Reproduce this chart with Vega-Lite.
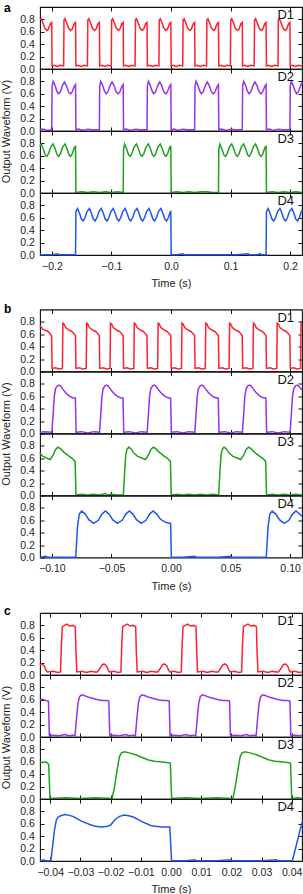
{
"$schema":"https://vega.github.io/schema/vega-lite/v6.json",
"background":"white",
"padding":{"left":-1,"top":0,"right":2,"bottom":0},
"spacing":11.5,
"config":{
"font":"Liberation Sans",
"view":{"stroke":"#111","strokeWidth":1.1},
"axis":{"domain":false,"grid":false,"ticks":true,"tickSize":-4,"tickColor":"#111","tickWidth":1,"labelFont":"Liberation Sans","labelFontSize":10.5,"labelColor":"#222","titleFont":"Liberation Sans","titleFontSize":11,"titleFontWeight":"normal","titleColor":"#222","labelFlush":false,"labelOverlap":false},
"axisX":{"labelPadding":10,"titlePadding":6},
"axisY":{"labelPadding":9.7},
"text":{"font":"Liberation Sans"}
},
"datasets":{
"a1":[{"t":-0.22,"v":0.8},{"t":-0.218,"v":0.81},{"t":-0.215,"v":0.74},{"t":-0.212,"v":0.66},{"t":-0.2085,"v":0.62},{"t":-0.206,"v":0.64},{"t":-0.2025,"v":0.73},{"t":-0.2003,"v":0.75},{"t":-0.1997,"v":0.05},{"t":-0.196,"v":0.06},{"t":-0.191,"v":0.04},{"t":-0.186,"v":0.06},{"t":-0.1803,"v":0.05},
{"t":-0.1797,"v":0.79},{"t":-0.178,"v":0.81},{"t":-0.175,"v":0.74},{"t":-0.172,"v":0.66},{"t":-0.1685,"v":0.62},{"t":-0.166,"v":0.64},{"t":-0.1625,"v":0.73},{"t":-0.1603,"v":0.75},{"t":-0.1597,"v":0.05},{"t":-0.156,"v":0.06},{"t":-0.151,"v":0.04},{"t":-0.146,"v":0.06},{"t":-0.1403,"v":0.05},
{"t":-0.1397,"v":0.79},{"t":-0.138,"v":0.81},{"t":-0.135,"v":0.74},{"t":-0.132,"v":0.66},{"t":-0.1285,"v":0.62},{"t":-0.126,"v":0.64},{"t":-0.1225,"v":0.73},{"t":-0.1203,"v":0.75},{"t":-0.1197,"v":0.05},{"t":-0.116,"v":0.06},{"t":-0.111,"v":0.04},{"t":-0.106,"v":0.06},{"t":-0.1003,"v":0.05},
{"t":-0.0997,"v":0.79},{"t":-0.098,"v":0.81},{"t":-0.095,"v":0.74},{"t":-0.092,"v":0.66},{"t":-0.0885,"v":0.62},{"t":-0.086,"v":0.64},{"t":-0.0825,"v":0.73},{"t":-0.0803,"v":0.75},{"t":-0.0797,"v":0.05},{"t":-0.076,"v":0.06},{"t":-0.071,"v":0.04},{"t":-0.066,"v":0.06},{"t":-0.0603,"v":0.05},
{"t":-0.0597,"v":0.79},{"t":-0.058,"v":0.81},{"t":-0.055,"v":0.74},{"t":-0.052,"v":0.66},{"t":-0.0485,"v":0.62},{"t":-0.046,"v":0.64},{"t":-0.0425,"v":0.73},{"t":-0.0403,"v":0.75},{"t":-0.0397,"v":0.05},{"t":-0.036,"v":0.06},{"t":-0.031,"v":0.04},{"t":-0.026,"v":0.06},{"t":-0.0203,"v":0.05},
{"t":-0.0197,"v":0.79},{"t":-0.018,"v":0.81},{"t":-0.015,"v":0.74},{"t":-0.012,"v":0.66},{"t":-0.0085,"v":0.62},{"t":-0.006,"v":0.64},{"t":-0.0025,"v":0.73},{"t":-0.0003,"v":0.75},{"t":0.0003,"v":0.05},{"t":0.004,"v":0.06},{"t":0.009,"v":0.04},{"t":0.014,"v":0.06},{"t":0.0197,"v":0.05},
{"t":0.0203,"v":0.79},{"t":0.022,"v":0.81},{"t":0.025,"v":0.74},{"t":0.028,"v":0.66},{"t":0.0315,"v":0.62},{"t":0.034,"v":0.64},{"t":0.0375,"v":0.73},{"t":0.0397,"v":0.75},{"t":0.0403,"v":0.05},{"t":0.044,"v":0.06},{"t":0.049,"v":0.04},{"t":0.054,"v":0.06},{"t":0.0597,"v":0.05},
{"t":0.0603,"v":0.79},{"t":0.062,"v":0.81},{"t":0.065,"v":0.74},{"t":0.068,"v":0.66},{"t":0.0715,"v":0.62},{"t":0.074,"v":0.64},{"t":0.0775,"v":0.73},{"t":0.0797,"v":0.75},{"t":0.0803,"v":0.05},{"t":0.084,"v":0.06},{"t":0.089,"v":0.04},{"t":0.094,"v":0.06},{"t":0.0997,"v":0.05},
{"t":0.1003,"v":0.79},{"t":0.102,"v":0.81},{"t":0.105,"v":0.74},{"t":0.108,"v":0.66},{"t":0.1115,"v":0.62},{"t":0.114,"v":0.64},{"t":0.1175,"v":0.73},{"t":0.1197,"v":0.75},{"t":0.1203,"v":0.05},{"t":0.124,"v":0.06},{"t":0.129,"v":0.04},{"t":0.134,"v":0.06},{"t":0.1397,"v":0.05},
{"t":0.1403,"v":0.79},{"t":0.142,"v":0.81},{"t":0.145,"v":0.74},{"t":0.148,"v":0.66},{"t":0.1515,"v":0.62},{"t":0.154,"v":0.64},{"t":0.1575,"v":0.73},{"t":0.1597,"v":0.75},{"t":0.1603,"v":0.05},{"t":0.164,"v":0.06},{"t":0.169,"v":0.04},{"t":0.174,"v":0.06},{"t":0.1797,"v":0.05},
{"t":0.1803,"v":0.79},{"t":0.182,"v":0.81},{"t":0.185,"v":0.74},{"t":0.188,"v":0.66},{"t":0.1915,"v":0.62},{"t":0.194,"v":0.64},{"t":0.1975,"v":0.73},{"t":0.1997,"v":0.75},{"t":0.2003,"v":0.05},{"t":0.204,"v":0.06},{"t":0.209,"v":0.04},{"t":0.214,"v":0.06},{"t":0.22,"v":0.05}],
"a2":[{"t":-0.22,"v":0.02},{"t":-0.215,"v":0.03},{"t":-0.208,"v":0.01},{"t":-0.2003,"v":0.02},
{"t":-0.1997,"v":0.72},{"t":-0.198,"v":0.8},{"t":-0.195,"v":0.74},{"t":-0.192,"v":0.65},{"t":-0.189,"v":0.6},{"t":-0.186,"v":0.63},{"t":-0.182,"v":0.74},{"t":-0.179,"v":0.79},{"t":-0.176,"v":0.74},{"t":-0.172,"v":0.63},{"t":-0.169,"v":0.6},{"t":-0.166,"v":0.63},{"t":-0.1625,"v":0.72},{"t":-0.1603,"v":0.75},{"t":-0.1597,"v":0.02},{"t":-0.155,"v":0.03},{"t":-0.148,"v":0.01},{"t":-0.14,"v":0.03},{"t":-0.132,"v":0.02},{"t":-0.125,"v":0.02},{"t":-0.1203,"v":0.02},
{"t":-0.1197,"v":0.72},{"t":-0.118,"v":0.8},{"t":-0.115,"v":0.74},{"t":-0.112,"v":0.65},{"t":-0.109,"v":0.6},{"t":-0.106,"v":0.63},{"t":-0.102,"v":0.74},{"t":-0.099,"v":0.79},{"t":-0.096,"v":0.74},{"t":-0.092,"v":0.63},{"t":-0.089,"v":0.6},{"t":-0.086,"v":0.63},{"t":-0.0825,"v":0.72},{"t":-0.0803,"v":0.75},{"t":-0.0797,"v":0.02},{"t":-0.075,"v":0.03},{"t":-0.068,"v":0.01},{"t":-0.06,"v":0.03},{"t":-0.052,"v":0.02},{"t":-0.045,"v":0.02},{"t":-0.0403,"v":0.02},
{"t":-0.0397,"v":0.72},{"t":-0.038,"v":0.8},{"t":-0.035,"v":0.74},{"t":-0.032,"v":0.65},{"t":-0.029,"v":0.6},{"t":-0.026,"v":0.63},{"t":-0.022,"v":0.74},{"t":-0.019,"v":0.79},{"t":-0.016,"v":0.74},{"t":-0.012,"v":0.63},{"t":-0.009,"v":0.6},{"t":-0.006,"v":0.63},{"t":-0.0025,"v":0.72},{"t":-0.0003,"v":0.75},{"t":0.0003,"v":0.02},{"t":0.005,"v":0.03},{"t":0.012,"v":0.01},{"t":0.02,"v":0.03},{"t":0.028,"v":0.02},{"t":0.035,"v":0.02},{"t":0.0397,"v":0.02},
{"t":0.0403,"v":0.72},{"t":0.042,"v":0.8},{"t":0.045,"v":0.74},{"t":0.048,"v":0.65},{"t":0.051,"v":0.6},{"t":0.054,"v":0.63},{"t":0.058,"v":0.74},{"t":0.061,"v":0.79},{"t":0.064,"v":0.74},{"t":0.068,"v":0.63},{"t":0.071,"v":0.6},{"t":0.074,"v":0.63},{"t":0.0775,"v":0.72},{"t":0.0797,"v":0.75},{"t":0.0803,"v":0.02},{"t":0.085,"v":0.03},{"t":0.092,"v":0.01},{"t":0.1,"v":0.03},{"t":0.108,"v":0.02},{"t":0.115,"v":0.02},{"t":0.1197,"v":0.02},
{"t":0.1203,"v":0.72},{"t":0.122,"v":0.8},{"t":0.125,"v":0.74},{"t":0.128,"v":0.65},{"t":0.131,"v":0.6},{"t":0.134,"v":0.63},{"t":0.138,"v":0.74},{"t":0.141,"v":0.79},{"t":0.144,"v":0.74},{"t":0.148,"v":0.63},{"t":0.151,"v":0.6},{"t":0.154,"v":0.63},{"t":0.1575,"v":0.72},{"t":0.1597,"v":0.75},{"t":0.1603,"v":0.02},{"t":0.165,"v":0.03},{"t":0.172,"v":0.01},{"t":0.18,"v":0.03},{"t":0.188,"v":0.02},{"t":0.195,"v":0.02},{"t":0.1997,"v":0.02},
{"t":0.2003,"v":0.72},{"t":0.202,"v":0.8},{"t":0.205,"v":0.74},{"t":0.208,"v":0.65},{"t":0.211,"v":0.6},{"t":0.214,"v":0.63},{"t":0.218,"v":0.74},{"t":0.22,"v":0.78}],
"a3":[{"t":-0.22,"v":0.75},{"t":-0.218,"v":0.79},{"t":-0.2145,"v":0.71},{"t":-0.211,"v":0.61},{"t":-0.2085,"v":0.59},{"t":-0.2055,"v":0.64},{"t":-0.202,"v":0.74},{"t":-0.198,"v":0.79},{"t":-0.1945,"v":0.71},{"t":-0.191,"v":0.61},{"t":-0.1885,"v":0.59},{"t":-0.1855,"v":0.64},{"t":-0.182,"v":0.74},{"t":-0.178,"v":0.79},{"t":-0.1745,"v":0.71},{"t":-0.171,"v":0.61},{"t":-0.1685,"v":0.59},{"t":-0.1655,"v":0.64},{"t":-0.162,"v":0.74},{"t":-0.1603,"v":0.75},{"t":-0.1597,"v":0.01},
{"t":-0.15,"v":0.02},{"t":-0.14,"v":0.01},{"t":-0.13,"v":0.02},{"t":-0.12,"v":0.01},{"t":-0.11,"v":0.02},{"t":-0.1,"v":0.01},{"t":-0.09,"v":0.02},{"t":-0.0803,"v":0.01},
{"t":-0.0797,"v":0.7},{"t":-0.078,"v":0.79},{"t":-0.0745,"v":0.71},{"t":-0.071,"v":0.61},{"t":-0.0685,"v":0.59},{"t":-0.0655,"v":0.64},{"t":-0.062,"v":0.74},{"t":-0.058,"v":0.79},{"t":-0.0545,"v":0.71},{"t":-0.051,"v":0.61},{"t":-0.0485,"v":0.59},{"t":-0.0455,"v":0.64},{"t":-0.042,"v":0.74},{"t":-0.038,"v":0.79},{"t":-0.0345,"v":0.71},{"t":-0.031,"v":0.61},{"t":-0.0285,"v":0.59},{"t":-0.0255,"v":0.64},{"t":-0.022,"v":0.74},{"t":-0.018,"v":0.79},{"t":-0.0145,"v":0.71},{"t":-0.011,"v":0.61},{"t":-0.0085,"v":0.59},{"t":-0.0055,"v":0.64},{"t":-0.002,"v":0.74},{"t":-0.0003,"v":0.75},{"t":0.0003,"v":0.01},
{"t":0.01,"v":0.02},{"t":0.02,"v":0.01},{"t":0.03,"v":0.02},{"t":0.04,"v":0.01},{"t":0.05,"v":0.02},{"t":0.06,"v":0.02},{"t":0.07,"v":0.01},{"t":0.0797,"v":0.01},
{"t":0.0803,"v":0.7},{"t":0.082,"v":0.79},{"t":0.0855,"v":0.71},{"t":0.089,"v":0.61},{"t":0.0915,"v":0.59},{"t":0.0945,"v":0.64},{"t":0.098,"v":0.74},{"t":0.102,"v":0.79},{"t":0.1055,"v":0.71},{"t":0.109,"v":0.61},{"t":0.1115,"v":0.59},{"t":0.1145,"v":0.64},{"t":0.118,"v":0.74},{"t":0.122,"v":0.79},{"t":0.1255,"v":0.71},{"t":0.129,"v":0.61},{"t":0.1315,"v":0.59},{"t":0.1345,"v":0.64},{"t":0.138,"v":0.74},{"t":0.142,"v":0.79},{"t":0.1455,"v":0.71},{"t":0.149,"v":0.61},{"t":0.1515,"v":0.59},{"t":0.1545,"v":0.64},{"t":0.158,"v":0.74},{"t":0.1597,"v":0.75},{"t":0.1603,"v":0.01},
{"t":0.17,"v":0.02},{"t":0.18,"v":0.01},{"t":0.19,"v":0.02},{"t":0.2,"v":0.01},{"t":0.21,"v":0.02},{"t":0.22,"v":0.01}],
"a4":[{"t":-0.22,"v":0.005},{"t":-0.2,"v":0.005},{"t":-0.19,"v":0.02},{"t":-0.189,"v":0.005},{"t":-0.175,"v":0.005},{"t":-0.1603,"v":0.005},
{"t":-0.1597,"v":0.7},{"t":-0.157,"v":0.75},{"t":-0.1535,"v":0.67},{"t":-0.1505,"v":0.58},{"t":-0.1475,"v":0.55},{"t":-0.1445,"v":0.6},{"t":-0.141,"v":0.7},{"t":-0.137,"v":0.75},{"t":-0.1335,"v":0.67},{"t":-0.1305,"v":0.58},{"t":-0.1275,"v":0.55},{"t":-0.1245,"v":0.6},{"t":-0.121,"v":0.7},{"t":-0.117,"v":0.75},{"t":-0.1135,"v":0.67},{"t":-0.1105,"v":0.58},{"t":-0.1075,"v":0.55},{"t":-0.1045,"v":0.6},{"t":-0.101,"v":0.7},{"t":-0.097,"v":0.75},{"t":-0.0935,"v":0.67},{"t":-0.0905,"v":0.58},{"t":-0.0875,"v":0.55},{"t":-0.0845,"v":0.6},{"t":-0.081,"v":0.7},{"t":-0.077,"v":0.75},{"t":-0.0735,"v":0.67},{"t":-0.0705,"v":0.58},{"t":-0.0675,"v":0.55},{"t":-0.0645,"v":0.6},{"t":-0.061,"v":0.7},{"t":-0.057,"v":0.75},{"t":-0.0535,"v":0.67},{"t":-0.0505,"v":0.58},{"t":-0.0475,"v":0.55},{"t":-0.0445,"v":0.6},{"t":-0.041,"v":0.7},{"t":-0.037,"v":0.75},{"t":-0.0335,"v":0.67},{"t":-0.0305,"v":0.58},{"t":-0.0275,"v":0.55},{"t":-0.0245,"v":0.6},{"t":-0.021,"v":0.7},{"t":-0.017,"v":0.75},{"t":-0.0135,"v":0.67},{"t":-0.0105,"v":0.58},{"t":-0.0075,"v":0.55},{"t":-0.0045,"v":0.6},{"t":-0.001,"v":0.7},{"t":-0.0003,"v":0.7},{"t":0.0003,"v":0.005},
{"t":0.01,"v":0.005},{"t":0.02,"v":0.02},{"t":0.021,"v":0.005},{"t":0.05,"v":0.005},{"t":0.08,"v":0.005},{"t":0.11,"v":0.005},{"t":0.13,"v":0.02},{"t":0.131,"v":0.005},{"t":0.145,"v":0.005},{"t":0.15,"v":0.02},{"t":0.151,"v":0.005},{"t":0.1597,"v":0.005},
{"t":0.1603,"v":0.7},{"t":0.163,"v":0.75},{"t":0.1665,"v":0.67},{"t":0.1695,"v":0.58},{"t":0.1725,"v":0.55},{"t":0.1755,"v":0.6},{"t":0.179,"v":0.7},{"t":0.183,"v":0.75},{"t":0.1865,"v":0.67},{"t":0.1895,"v":0.58},{"t":0.1925,"v":0.55},{"t":0.1955,"v":0.6},{"t":0.199,"v":0.7},{"t":0.203,"v":0.75},{"t":0.2065,"v":0.67},{"t":0.2095,"v":0.58},{"t":0.2125,"v":0.55},{"t":0.2155,"v":0.6},{"t":0.219,"v":0.7},{"t":0.22,"v":0.72}],
"b1":[{"t":-0.11,"v":0.74},{"t":-0.1075,"v":0.68},{"t":-0.105,"v":0.66},{"t":-0.1035,"v":0.65},{"t":-0.102,"v":0.62},{"t":-0.1003,"v":0.58},{"t":-0.0998,"v":0.05},{"t":-0.097,"v":0.06},{"t":-0.094,"v":0.04},{"t":-0.0912,"v":0.05},
{"t":-0.0908,"v":0.78},{"t":-0.09,"v":0.77},{"t":-0.0885,"v":0.71},{"t":-0.0865,"v":0.68},{"t":-0.085,"v":0.66},{"t":-0.0835,"v":0.65},{"t":-0.082,"v":0.62},{"t":-0.0802,"v":0.58},{"t":-0.0798,"v":0.05},{"t":-0.077,"v":0.06},{"t":-0.074,"v":0.04},{"t":-0.0712,"v":0.05},
{"t":-0.0708,"v":0.78},{"t":-0.07,"v":0.77},{"t":-0.0685,"v":0.71},{"t":-0.0665,"v":0.68},{"t":-0.065,"v":0.66},{"t":-0.0635,"v":0.65},{"t":-0.062,"v":0.62},{"t":-0.0602,"v":0.58},{"t":-0.0598,"v":0.05},{"t":-0.057,"v":0.06},{"t":-0.054,"v":0.04},{"t":-0.0512,"v":0.05},
{"t":-0.0508,"v":0.78},{"t":-0.05,"v":0.77},{"t":-0.0485,"v":0.71},{"t":-0.0465,"v":0.68},{"t":-0.045,"v":0.66},{"t":-0.0435,"v":0.65},{"t":-0.042,"v":0.62},{"t":-0.0402,"v":0.58},{"t":-0.0398,"v":0.05},{"t":-0.037,"v":0.06},{"t":-0.034,"v":0.04},{"t":-0.0312,"v":0.05},
{"t":-0.0308,"v":0.78},{"t":-0.03,"v":0.77},{"t":-0.0285,"v":0.71},{"t":-0.0265,"v":0.68},{"t":-0.025,"v":0.66},{"t":-0.0235,"v":0.65},{"t":-0.022,"v":0.62},{"t":-0.0202,"v":0.58},{"t":-0.0198,"v":0.05},{"t":-0.017,"v":0.06},{"t":-0.014,"v":0.04},{"t":-0.0112,"v":0.05},
{"t":-0.0108,"v":0.78},{"t":-0.01,"v":0.77},{"t":-0.0085,"v":0.71},{"t":-0.0065,"v":0.68},{"t":-0.005,"v":0.66},{"t":-0.0035,"v":0.65},{"t":-0.002,"v":0.62},{"t":-0.0002,"v":0.58},{"t":0.0002,"v":0.05},{"t":0.003,"v":0.06},{"t":0.006,"v":0.04},{"t":0.0088,"v":0.05},
{"t":0.0092,"v":0.78},{"t":0.01,"v":0.77},{"t":0.0115,"v":0.71},{"t":0.0135,"v":0.68},{"t":0.015,"v":0.66},{"t":0.0165,"v":0.65},{"t":0.018,"v":0.62},{"t":0.0198,"v":0.58},{"t":0.0202,"v":0.05},{"t":0.023,"v":0.06},{"t":0.026,"v":0.04},{"t":0.0288,"v":0.05},
{"t":0.0292,"v":0.78},{"t":0.03,"v":0.77},{"t":0.0315,"v":0.71},{"t":0.0335,"v":0.68},{"t":0.035,"v":0.66},{"t":0.0365,"v":0.65},{"t":0.038,"v":0.62},{"t":0.0398,"v":0.58},{"t":0.0402,"v":0.05},{"t":0.043,"v":0.06},{"t":0.046,"v":0.04},{"t":0.0488,"v":0.05},
{"t":0.0492,"v":0.78},{"t":0.05,"v":0.77},{"t":0.0515,"v":0.71},{"t":0.0535,"v":0.68},{"t":0.055,"v":0.66},{"t":0.0565,"v":0.65},{"t":0.058,"v":0.62},{"t":0.0598,"v":0.58},{"t":0.0602,"v":0.05},{"t":0.063,"v":0.06},{"t":0.066,"v":0.04},{"t":0.0688,"v":0.05},
{"t":0.0692,"v":0.78},{"t":0.07,"v":0.77},{"t":0.0715,"v":0.71},{"t":0.0735,"v":0.68},{"t":0.075,"v":0.66},{"t":0.0765,"v":0.65},{"t":0.078,"v":0.62},{"t":0.0798,"v":0.58},{"t":0.0802,"v":0.05},{"t":0.083,"v":0.06},{"t":0.086,"v":0.04},{"t":0.0888,"v":0.05},
{"t":0.0892,"v":0.78},{"t":0.09,"v":0.77},{"t":0.0915,"v":0.71},{"t":0.0935,"v":0.68},{"t":0.095,"v":0.66},{"t":0.0965,"v":0.65},{"t":0.098,"v":0.62},{"t":0.0998,"v":0.58},{"t":0.1002,"v":0.05},{"t":0.103,"v":0.06},{"t":0.106,"v":0.04},{"t":0.1088,"v":0.05},
{"t":0.1092,"v":0.78},{"t":0.11,"v":0.77}],
"b2":[{"t":-0.11,"v":0.02},{"t":-0.106,"v":0.03},{"t":-0.1,"v":0.02},
{"t":-0.099,"v":0.3},{"t":-0.098,"v":0.6},{"t":-0.097,"v":0.72},{"t":-0.0955,"v":0.77},{"t":-0.094,"v":0.78},{"t":-0.0925,"v":0.76},{"t":-0.091,"v":0.72},{"t":-0.089,"v":0.67},{"t":-0.087,"v":0.63},{"t":-0.085,"v":0.6},{"t":-0.083,"v":0.58},{"t":-0.0803,"v":0.57},{"t":-0.0797,"v":0.02},{"t":-0.075,"v":0.03},{"t":-0.07,"v":0.01},{"t":-0.065,"v":0.03},{"t":-0.06,"v":0.02},
{"t":-0.059,"v":0.3},{"t":-0.058,"v":0.6},{"t":-0.057,"v":0.72},{"t":-0.0555,"v":0.77},{"t":-0.054,"v":0.78},{"t":-0.0525,"v":0.76},{"t":-0.051,"v":0.72},{"t":-0.049,"v":0.67},{"t":-0.047,"v":0.63},{"t":-0.045,"v":0.6},{"t":-0.043,"v":0.58},{"t":-0.0403,"v":0.57},{"t":-0.0397,"v":0.02},{"t":-0.035,"v":0.03},{"t":-0.03,"v":0.01},{"t":-0.025,"v":0.03},{"t":-0.02,"v":0.02},
{"t":-0.019,"v":0.3},{"t":-0.018,"v":0.6},{"t":-0.017,"v":0.72},{"t":-0.0155,"v":0.77},{"t":-0.014,"v":0.78},{"t":-0.0125,"v":0.76},{"t":-0.011,"v":0.72},{"t":-0.009,"v":0.67},{"t":-0.007,"v":0.63},{"t":-0.005,"v":0.6},{"t":-0.003,"v":0.58},{"t":-0.0003,"v":0.57},{"t":0.0003,"v":0.02},{"t":0.005,"v":0.03},{"t":0.01,"v":0.01},{"t":0.015,"v":0.03},{"t":0.02,"v":0.02},
{"t":0.021,"v":0.3},{"t":0.022,"v":0.6},{"t":0.023,"v":0.72},{"t":0.0245,"v":0.77},{"t":0.026,"v":0.78},{"t":0.0275,"v":0.76},{"t":0.029,"v":0.72},{"t":0.031,"v":0.67},{"t":0.033,"v":0.63},{"t":0.035,"v":0.6},{"t":0.037,"v":0.58},{"t":0.0397,"v":0.57},{"t":0.0403,"v":0.02},{"t":0.045,"v":0.03},{"t":0.05,"v":0.01},{"t":0.055,"v":0.03},{"t":0.06,"v":0.02},
{"t":0.061,"v":0.3},{"t":0.062,"v":0.6},{"t":0.063,"v":0.72},{"t":0.0645,"v":0.77},{"t":0.066,"v":0.78},{"t":0.0675,"v":0.76},{"t":0.069,"v":0.72},{"t":0.071,"v":0.67},{"t":0.073,"v":0.63},{"t":0.075,"v":0.6},{"t":0.077,"v":0.58},{"t":0.0797,"v":0.57},{"t":0.0803,"v":0.02},{"t":0.085,"v":0.03},{"t":0.09,"v":0.01},{"t":0.095,"v":0.03},{"t":0.1,"v":0.02},
{"t":0.101,"v":0.3},{"t":0.102,"v":0.6},{"t":0.103,"v":0.72},{"t":0.1045,"v":0.77},{"t":0.106,"v":0.78},{"t":0.1075,"v":0.76},{"t":0.109,"v":0.72},{"t":0.11,"v":0.7}],
"b3":[{"t":-0.11,"v":0.68},{"t":-0.108,"v":0.64},{"t":-0.104,"v":0.6},{"t":-0.1015,"v":0.58},{"t":-0.099,"v":0.65},{"t":-0.097,"v":0.74},{"t":-0.095,"v":0.78},{"t":-0.093,"v":0.76},{"t":-0.09,"v":0.7},{"t":-0.086,"v":0.64},{"t":-0.083,"v":0.6},{"t":-0.0805,"v":0.55},{"t":-0.0798,"v":0.01},
{"t":-0.075,"v":0.02},{"t":-0.07,"v":0.01},{"t":-0.065,"v":0.02},{"t":-0.06,"v":0.01},{"t":-0.055,"v":0.03},{"t":-0.054,"v":0.01},{"t":-0.05,"v":0.02},{"t":-0.045,"v":0.01},{"t":-0.04,"v":0.01},
{"t":-0.039,"v":0.35},{"t":-0.038,"v":0.65},{"t":-0.037,"v":0.74},{"t":-0.0355,"v":0.78},{"t":-0.034,"v":0.76},{"t":-0.031,"v":0.68},{"t":-0.028,"v":0.63},{"t":-0.024,"v":0.6},{"t":-0.0215,"v":0.58},{"t":-0.019,"v":0.65},{"t":-0.017,"v":0.74},{"t":-0.015,"v":0.78},{"t":-0.013,"v":0.76},{"t":-0.01,"v":0.7},{"t":-0.006,"v":0.64},{"t":-0.003,"v":0.6},{"t":-0.0005,"v":0.55},{"t":0.0002,"v":0.01},
{"t":0.005,"v":0.02},{"t":0.01,"v":0.01},{"t":0.015,"v":0.02},{"t":0.02,"v":0.01},{"t":0.025,"v":0.02},{"t":0.03,"v":0.01},{"t":0.035,"v":0.02},{"t":0.04,"v":0.01},
{"t":0.041,"v":0.35},{"t":0.042,"v":0.65},{"t":0.043,"v":0.74},{"t":0.0445,"v":0.78},{"t":0.046,"v":0.76},{"t":0.049,"v":0.68},{"t":0.052,"v":0.63},{"t":0.056,"v":0.6},{"t":0.0585,"v":0.58},{"t":0.061,"v":0.65},{"t":0.063,"v":0.74},{"t":0.065,"v":0.78},{"t":0.067,"v":0.76},{"t":0.07,"v":0.7},{"t":0.074,"v":0.64},{"t":0.077,"v":0.6},{"t":0.0795,"v":0.55},{"t":0.0802,"v":0.01},
{"t":0.085,"v":0.02},{"t":0.09,"v":0.01},{"t":0.095,"v":0.02},{"t":0.1,"v":0.01},{"t":0.105,"v":0.02},{"t":0.11,"v":0.01}],
"b4":[{"t":-0.11,"v":0.005},{"t":-0.105,"v":0.02},{"t":-0.104,"v":0.005},{"t":-0.09,"v":0.005},{"t":-0.08,"v":0.005},
{"t":-0.0785,"v":0.5},{"t":-0.077,"v":0.7},{"t":-0.075,"v":0.75},{"t":-0.072,"v":0.7},{"t":-0.069,"v":0.61},{"t":-0.065,"v":0.55},{"t":-0.061,"v":0.6},{"t":-0.058,"v":0.7},{"t":-0.055,"v":0.75},{"t":-0.052,"v":0.7},{"t":-0.049,"v":0.61},{"t":-0.045,"v":0.55},{"t":-0.041,"v":0.6},{"t":-0.038,"v":0.7},{"t":-0.035,"v":0.75},{"t":-0.032,"v":0.7},{"t":-0.029,"v":0.61},{"t":-0.025,"v":0.55},{"t":-0.021,"v":0.6},{"t":-0.018,"v":0.7},{"t":-0.015,"v":0.75},{"t":-0.012,"v":0.7},{"t":-0.009,"v":0.62},{"t":-0.005,"v":0.57},{"t":-0.0003,"v":0.55},{"t":0.0003,"v":0.005},
{"t":0.01,"v":0.005},{"t":0.02,"v":0.02},{"t":0.021,"v":0.005},{"t":0.04,"v":0.005},{"t":0.05,"v":0.02},{"t":0.051,"v":0.005},{"t":0.07,"v":0.005},{"t":0.08,"v":0.005},
{"t":0.0815,"v":0.5},{"t":0.083,"v":0.7},{"t":0.085,"v":0.75},{"t":0.088,"v":0.7},{"t":0.091,"v":0.61},{"t":0.095,"v":0.55},{"t":0.099,"v":0.6},{"t":0.102,"v":0.7},{"t":0.105,"v":0.75},{"t":0.108,"v":0.7},{"t":0.11,"v":0.66}],
"c1":[{"t":-0.0434,"v":0.16},{"t":-0.0428,"v":0.18},{"t":-0.0421,"v":0.15},{"t":-0.0414,"v":0.08},{"t":-0.041,"v":0.05},{"t":-0.039,"v":0.06},{"t":-0.0375,"v":0.04},{"t":-0.0366,"v":0.05},
{"t":-0.0363,"v":0.5},{"t":-0.036,"v":0.78},{"t":-0.0353,"v":0.8},{"t":-0.0345,"v":0.82},{"t":-0.0335,"v":0.79},{"t":-0.0325,"v":0.8},{"t":-0.0317,"v":0.78},{"t":-0.0315,"v":0.4},{"t":-0.0312,"v":0.05},
{"t":-0.0295,"v":0.06},{"t":-0.028,"v":0.04},{"t":-0.0265,"v":0.06},{"t":-0.0252,"v":0.05},
{"t":-0.0244,"v":0.05},{"t":-0.0236,"v":0.1},{"t":-0.0229,"v":0.16},{"t":-0.0222,"v":0.18},{"t":-0.0214,"v":0.15},{"t":-0.0208,"v":0.08},{"t":-0.0204,"v":0.05},
{"t":-0.019,"v":0.06},{"t":-0.0175,"v":0.04},{"t":-0.0166,"v":0.05},
{"t":-0.0163,"v":0.5},{"t":-0.016,"v":0.78},{"t":-0.0153,"v":0.8},{"t":-0.0145,"v":0.82},{"t":-0.0135,"v":0.79},{"t":-0.0125,"v":0.8},{"t":-0.0117,"v":0.78},{"t":-0.0115,"v":0.4},{"t":-0.0112,"v":0.05},
{"t":-0.0095,"v":0.06},{"t":-0.008,"v":0.04},{"t":-0.0065,"v":0.06},{"t":-0.0052,"v":0.05},
{"t":-0.0044,"v":0.05},{"t":-0.0036,"v":0.1},{"t":-0.0029,"v":0.16},{"t":-0.0022,"v":0.18},{"t":-0.0014,"v":0.15},{"t":-0.0008,"v":0.08},{"t":-0.0004,"v":0.05},
{"t":0.001,"v":0.06},{"t":0.0025,"v":0.04},{"t":0.0034,"v":0.05},
{"t":0.0037,"v":0.5},{"t":0.004,"v":0.78},{"t":0.0047,"v":0.8},{"t":0.0055,"v":0.82},{"t":0.0065,"v":0.79},{"t":0.0075,"v":0.8},{"t":0.0083,"v":0.78},{"t":0.0085,"v":0.4},{"t":0.0088,"v":0.05},
{"t":0.0105,"v":0.06},{"t":0.012,"v":0.04},{"t":0.0135,"v":0.06},{"t":0.0148,"v":0.05},
{"t":0.0156,"v":0.05},{"t":0.0164,"v":0.1},{"t":0.0171,"v":0.16},{"t":0.0178,"v":0.18},{"t":0.0186,"v":0.15},{"t":0.0192,"v":0.08},{"t":0.0196,"v":0.05},
{"t":0.021,"v":0.06},{"t":0.0225,"v":0.04},{"t":0.0234,"v":0.05},
{"t":0.0237,"v":0.5},{"t":0.024,"v":0.78},{"t":0.0247,"v":0.8},{"t":0.0255,"v":0.82},{"t":0.0265,"v":0.79},{"t":0.0275,"v":0.8},{"t":0.0283,"v":0.78},{"t":0.0285,"v":0.4},{"t":0.0288,"v":0.05},
{"t":0.0305,"v":0.06},{"t":0.032,"v":0.04},{"t":0.0335,"v":0.06},{"t":0.0348,"v":0.05},
{"t":0.0356,"v":0.05},{"t":0.0364,"v":0.1},{"t":0.0371,"v":0.16},{"t":0.0378,"v":0.18},{"t":0.0386,"v":0.15},{"t":0.0392,"v":0.08},{"t":0.0396,"v":0.05},
{"t":0.041,"v":0.06},{"t":0.0425,"v":0.04},{"t":0.0434,"v":0.05}],
"c2":[{"t":-0.0434,"v":0.6},{"t":-0.0425,"v":0.61},{"t":-0.0415,"v":0.59},{"t":-0.0406,"v":0.58},{"t":-0.0403,"v":0.02},{"t":-0.039,"v":0.03},{"t":-0.037,"v":0.02},{"t":-0.035,"v":0.04},{"t":-0.034,"v":0.02},{"t":-0.0325,"v":0.03},{"t":-0.0318,"v":0.02},
{"t":-0.0313,"v":0.3},{"t":-0.0308,"v":0.55},{"t":-0.0303,"v":0.65},{"t":-0.0296,"v":0.68},{"t":-0.0288,"v":0.67},{"t":-0.0273,"v":0.64},{"t":-0.0258,"v":0.62},{"t":-0.0243,"v":0.6},{"t":-0.0228,"v":0.59},{"t":-0.0213,"v":0.59},{"t":-0.0206,"v":0.58},{"t":-0.0203,"v":0.02},
{"t":-0.019,"v":0.03},{"t":-0.017,"v":0.02},{"t":-0.015,"v":0.04},{"t":-0.014,"v":0.02},{"t":-0.0125,"v":0.03},{"t":-0.0118,"v":0.02},
{"t":-0.0113,"v":0.3},{"t":-0.0108,"v":0.55},{"t":-0.0103,"v":0.65},{"t":-0.0096,"v":0.68},{"t":-0.0088,"v":0.67},{"t":-0.0073,"v":0.64},{"t":-0.0058,"v":0.62},{"t":-0.0043,"v":0.6},{"t":-0.0028,"v":0.59},{"t":-0.0013,"v":0.59},{"t":-0.0006,"v":0.58},{"t":-0.0003,"v":0.02},
{"t":0.001,"v":0.03},{"t":0.003,"v":0.02},{"t":0.005,"v":0.04},{"t":0.006,"v":0.02},{"t":0.0075,"v":0.03},{"t":0.0082,"v":0.02},
{"t":0.0087,"v":0.3},{"t":0.0092,"v":0.55},{"t":0.0097,"v":0.65},{"t":0.0104,"v":0.68},{"t":0.0112,"v":0.67},{"t":0.0127,"v":0.64},{"t":0.0142,"v":0.62},{"t":0.0157,"v":0.6},{"t":0.0172,"v":0.59},{"t":0.0187,"v":0.59},{"t":0.0194,"v":0.58},{"t":0.0197,"v":0.02},
{"t":0.021,"v":0.03},{"t":0.023,"v":0.02},{"t":0.025,"v":0.04},{"t":0.026,"v":0.02},{"t":0.0275,"v":0.03},{"t":0.0282,"v":0.02},
{"t":0.0287,"v":0.3},{"t":0.0292,"v":0.55},{"t":0.0297,"v":0.65},{"t":0.0304,"v":0.68},{"t":0.0312,"v":0.67},{"t":0.0327,"v":0.64},{"t":0.0342,"v":0.62},{"t":0.0357,"v":0.6},{"t":0.0372,"v":0.59},{"t":0.0387,"v":0.59},{"t":0.0394,"v":0.58},{"t":0.0397,"v":0.02},
{"t":0.041,"v":0.03},{"t":0.0425,"v":0.02},{"t":0.0434,"v":0.03}],
"c3":[{"t":-0.0434,"v":0.6},{"t":-0.0425,"v":0.59},{"t":-0.0415,"v":0.6},{"t":-0.0407,"v":0.57},{"t":-0.0405,"v":0.55},{"t":-0.0401,"v":0.01},
{"t":-0.035,"v":0.02},{"t":-0.03,"v":0.01},{"t":-0.025,"v":0.02},{"t":-0.0195,"v":0.01},
{"t":-0.0187,"v":0.2},{"t":-0.0179,"v":0.45},{"t":-0.0171,"v":0.68},{"t":-0.0165,"v":0.74},{"t":-0.0155,"v":0.76},{"t":-0.0135,"v":0.74},{"t":-0.0115,"v":0.71},{"t":-0.0095,"v":0.67},{"t":-0.0075,"v":0.63},{"t":-0.0055,"v":0.61},{"t":-0.0035,"v":0.6},{"t":-0.0015,"v":0.59},{"t":-0.0002,"v":0.58},{"t":0.0002,"v":0.01},
{"t":0.005,"v":0.02},{"t":0.01,"v":0.01},{"t":0.015,"v":0.02},{"t":0.0205,"v":0.01},
{"t":0.0213,"v":0.2},{"t":0.0221,"v":0.45},{"t":0.0229,"v":0.68},{"t":0.0235,"v":0.74},{"t":0.0245,"v":0.76},{"t":0.0265,"v":0.74},{"t":0.0285,"v":0.71},{"t":0.0305,"v":0.67},{"t":0.0325,"v":0.63},{"t":0.0345,"v":0.61},{"t":0.0365,"v":0.6},{"t":0.0385,"v":0.59},{"t":0.0396,"v":0.58},{"t":0.04,"v":0.01},
{"t":0.042,"v":0.02},{"t":0.0434,"v":0.01}],
"c4":[{"t":-0.0434,"v":0.005},{"t":-0.042,"v":0.02},{"t":-0.0419,"v":0.005},{"t":-0.0398,"v":0.005},{"t":-0.0392,"v":0.25},{"t":-0.0386,"v":0.5},{"t":-0.038,"v":0.66},{"t":-0.0374,"v":0.71},{"t":-0.0365,"v":0.73},{"t":-0.0352,"v":0.75},{"t":-0.034,"v":0.74},{"t":-0.0325,"v":0.72},{"t":-0.031,"v":0.68},{"t":-0.0295,"v":0.64},{"t":-0.028,"v":0.61},{"t":-0.0265,"v":0.58},{"t":-0.025,"v":0.56},{"t":-0.023,"v":0.55},{"t":-0.021,"v":0.56},{"t":-0.02,"v":0.58},{"t":-0.019,"v":0.64},{"t":-0.018,"v":0.69},{"t":-0.017,"v":0.72},{"t":-0.0155,"v":0.74},{"t":-0.014,"v":0.73},{"t":-0.0125,"v":0.71},{"t":-0.011,"v":0.67},{"t":-0.0095,"v":0.63},{"t":-0.008,"v":0.6},{"t":-0.0065,"v":0.57},{"t":-0.005,"v":0.56},{"t":-0.003,"v":0.55},{"t":-0.0004,"v":0.55},{"t":0.0002,"v":0.005},
{"t":0.005,"v":0.005},{"t":0.008,"v":0.02},{"t":0.0082,"v":0.005},{"t":0.015,"v":0.005},{"t":0.02,"v":0.02},{"t":0.0202,"v":0.005},{"t":0.03,"v":0.005},{"t":0.035,"v":0.02},{"t":0.0352,"v":0.005},{"t":0.0402,"v":0.005},{"t":0.0415,"v":0.25},{"t":0.0425,"v":0.45},{"t":0.0434,"v":0.62}]
},
"vconcat":[
{"spacing":0,"bounds":"flush",
"vconcat":[
{"width":262,"height":62,"data":{"name":"a1"},
"layer":[{"mark":{"type":"line","color":"#ff2030","strokeWidth":1.5},"encoding":{"x":{"field":"t","type":"quantitative","scale":{"domain":[-0.22,0.22],"nice":false,"zero":false},"axis":{"values":[-0.2,-0.1,0,0.1,0.2],"labels":false,"title":null}},"y":{"field":"v","type":"quantitative","scale":{"domain":[0,1],"nice":false,"zero":false},"axis":{"values":[0,0.2,0.4,0.6,0.8],"format":".1f","title":null}}}},
{"data":{"values":[{"label":"D1"}]},"mark":{"type":"text","align":"right","baseline":"alphabetic","dx":-8,"dy":12.2,"fontSize":13,"color":"#111"},"encoding":{"text":{"field":"label","type":"nominal"},"x":{"datum":0.22,"type":"quantitative","axis":{"orient":"top","values":[-0.2,-0.1,0,0.1,0.2],"labels":false,"title":null}},"y":{"datum":1,"type":"quantitative","axis":{"orient":"right","values":[0.2,0.4,0.6,0.8],"labels":false,"title":null}}}},
{"data":{"values":[{"label":"a"}]},"mark":{"type":"text","align":"left","baseline":"alphabetic","dx":-36,"dy":4.5,"fontSize":12,"fontWeight":"bold","color":"#000"},"encoding":{"text":{"field":"label","type":"nominal"},"x":{"datum":-0.22,"type":"quantitative","axis":null},"y":{"datum":1,"type":"quantitative","axis":null}}}],
"resolve":{"axis":{"x":"independent","y":"independent"}}},
{"width":262,"height":62,"data":{"name":"a2"},
"layer":[{"mark":{"type":"line","color":"#9632f0","strokeWidth":1.5},"encoding":{"x":{"field":"t","type":"quantitative","scale":{"domain":[-0.22,0.22],"nice":false,"zero":false},"axis":{"values":[-0.2,-0.1,0,0.1,0.2],"labels":false,"title":null}},"y":{"field":"v","type":"quantitative","scale":{"domain":[0,1],"nice":false,"zero":false},"axis":{"values":[0,0.2,0.4,0.6,0.8],"format":".1f","title":"Output Waveform (V)","titleX":-31,"titleY":62,"titleAngle":-90,"titleAlign":"center","titleBaseline":"alphabetic"}}}},
{"data":{"values":[{"label":"D2"}]},"mark":{"type":"text","align":"right","baseline":"alphabetic","dx":-8,"dy":12.2,"fontSize":13,"color":"#111"},"encoding":{"text":{"field":"label","type":"nominal"},"x":{"datum":0.22,"type":"quantitative","axis":{"orient":"top","values":[-0.2,-0.1,0,0.1,0.2],"labels":false,"title":null}},"y":{"datum":1,"type":"quantitative","axis":{"orient":"right","values":[0.2,0.4,0.6,0.8],"labels":false,"title":null}}}}],
"resolve":{"axis":{"x":"independent","y":"independent"}}},
{"width":262,"height":62,"data":{"name":"a3"},
"layer":[{"mark":{"type":"line","color":"#20a020","strokeWidth":1.5},"encoding":{"x":{"field":"t","type":"quantitative","scale":{"domain":[-0.22,0.22],"nice":false,"zero":false},"axis":{"values":[-0.2,-0.1,0,0.1,0.2],"labels":false,"title":null}},"y":{"field":"v","type":"quantitative","scale":{"domain":[0,1],"nice":false,"zero":false},"axis":{"values":[0,0.2,0.4,0.6,0.8],"format":".1f","title":null}}}},
{"data":{"values":[{"label":"D3"}]},"mark":{"type":"text","align":"right","baseline":"alphabetic","dx":-8,"dy":12.2,"fontSize":13,"color":"#111"},"encoding":{"text":{"field":"label","type":"nominal"},"x":{"datum":0.22,"type":"quantitative","axis":{"orient":"top","values":[-0.2,-0.1,0,0.1,0.2],"labels":false,"title":null}},"y":{"datum":1,"type":"quantitative","axis":{"orient":"right","values":[0.2,0.4,0.6,0.8],"labels":false,"title":null}}}}],
"resolve":{"axis":{"x":"independent","y":"independent"}}},
{"width":262,"height":62,"data":{"name":"a4"},
"layer":[{"mark":{"type":"line","color":"#2055f0","strokeWidth":1.5},"encoding":{"x":{"field":"t","type":"quantitative","scale":{"domain":[-0.22,0.22],"nice":false,"zero":false},"axis":{"values":[-0.2,-0.1,0,0.1,0.2],"format":".1f","title":"Time (s)"}},"y":{"field":"v","type":"quantitative","scale":{"domain":[0,1],"nice":false,"zero":false},"axis":{"values":[0,0.2,0.4,0.6,0.8],"format":".1f","title":null}}}},
{"data":{"values":[{"label":"D4"}]},"mark":{"type":"text","align":"right","baseline":"alphabetic","dx":-8,"dy":12.2,"fontSize":13,"color":"#111"},"encoding":{"text":{"field":"label","type":"nominal"},"x":{"datum":0.22,"type":"quantitative","axis":{"orient":"top","values":[-0.2,-0.1,0,0.1,0.2],"labels":false,"title":null}},"y":{"datum":1,"type":"quantitative","axis":{"orient":"right","values":[0.2,0.4,0.6,0.8],"labels":false,"title":null}}}}],
"resolve":{"axis":{"x":"independent","y":"independent"}}}
]},
{"spacing":0,"bounds":"flush",
"vconcat":[
{"width":262,"height":62,"data":{"name":"b1"},
"layer":[{"mark":{"type":"line","color":"#ff2030","strokeWidth":1.5},"encoding":{"x":{"field":"t","type":"quantitative","scale":{"domain":[-0.11,0.11],"nice":false,"zero":false},"axis":{"values":[-0.1,-0.05,0,0.05,0.1],"labels":false,"title":null}},"y":{"field":"v","type":"quantitative","scale":{"domain":[0,1],"nice":false,"zero":false},"axis":{"values":[0,0.2,0.4,0.6,0.8],"format":".1f","title":null}}}},
{"data":{"values":[{"label":"D1"}]},"mark":{"type":"text","align":"right","baseline":"alphabetic","dx":-8,"dy":12.2,"fontSize":13,"color":"#111"},"encoding":{"text":{"field":"label","type":"nominal"},"x":{"datum":0.11,"type":"quantitative","axis":{"orient":"top","values":[-0.1,-0.05,0,0.05,0.1],"labels":false,"title":null}},"y":{"datum":1,"type":"quantitative","axis":{"orient":"right","values":[0.2,0.4,0.6,0.8],"labels":false,"title":null}}}},
{"data":{"values":[{"label":"b"}]},"mark":{"type":"text","align":"left","baseline":"alphabetic","dx":-36,"dy":3.4,"fontSize":12,"fontWeight":"bold","color":"#000"},"encoding":{"text":{"field":"label","type":"nominal"},"x":{"datum":-0.11,"type":"quantitative","axis":null},"y":{"datum":1,"type":"quantitative","axis":null}}}],
"resolve":{"axis":{"x":"independent","y":"independent"}}},
{"width":262,"height":62,"data":{"name":"b2"},
"layer":[{"mark":{"type":"line","color":"#9632f0","strokeWidth":1.5},"encoding":{"x":{"field":"t","type":"quantitative","scale":{"domain":[-0.11,0.11],"nice":false,"zero":false},"axis":{"values":[-0.1,-0.05,0,0.05,0.1],"labels":false,"title":null}},"y":{"field":"v","type":"quantitative","scale":{"domain":[0,1],"nice":false,"zero":false},"axis":{"values":[0,0.2,0.4,0.6,0.8],"format":".1f","title":"Output Waveform (V)","titleX":-31,"titleY":62,"titleAngle":-90,"titleAlign":"center","titleBaseline":"alphabetic"}}}},
{"data":{"values":[{"label":"D2"}]},"mark":{"type":"text","align":"right","baseline":"alphabetic","dx":-8,"dy":12.2,"fontSize":13,"color":"#111"},"encoding":{"text":{"field":"label","type":"nominal"},"x":{"datum":0.11,"type":"quantitative","axis":{"orient":"top","values":[-0.1,-0.05,0,0.05,0.1],"labels":false,"title":null}},"y":{"datum":1,"type":"quantitative","axis":{"orient":"right","values":[0.2,0.4,0.6,0.8],"labels":false,"title":null}}}}],
"resolve":{"axis":{"x":"independent","y":"independent"}}},
{"width":262,"height":62,"data":{"name":"b3"},
"layer":[{"mark":{"type":"line","color":"#20a020","strokeWidth":1.5},"encoding":{"x":{"field":"t","type":"quantitative","scale":{"domain":[-0.11,0.11],"nice":false,"zero":false},"axis":{"values":[-0.1,-0.05,0,0.05,0.1],"labels":false,"title":null}},"y":{"field":"v","type":"quantitative","scale":{"domain":[0,1],"nice":false,"zero":false},"axis":{"values":[0,0.2,0.4,0.6,0.8],"format":".1f","title":null}}}},
{"data":{"values":[{"label":"D3"}]},"mark":{"type":"text","align":"right","baseline":"alphabetic","dx":-8,"dy":12.2,"fontSize":13,"color":"#111"},"encoding":{"text":{"field":"label","type":"nominal"},"x":{"datum":0.11,"type":"quantitative","axis":{"orient":"top","values":[-0.1,-0.05,0,0.05,0.1],"labels":false,"title":null}},"y":{"datum":1,"type":"quantitative","axis":{"orient":"right","values":[0.2,0.4,0.6,0.8],"labels":false,"title":null}}}}],
"resolve":{"axis":{"x":"independent","y":"independent"}}},
{"width":262,"height":62,"data":{"name":"b4"},
"layer":[{"mark":{"type":"line","color":"#2055f0","strokeWidth":1.5},"encoding":{"x":{"field":"t","type":"quantitative","scale":{"domain":[-0.11,0.11],"nice":false,"zero":false},"axis":{"values":[-0.1,-0.05,0,0.05,0.1],"format":".2f","title":"Time (s)"}},"y":{"field":"v","type":"quantitative","scale":{"domain":[0,1],"nice":false,"zero":false},"axis":{"values":[0,0.2,0.4,0.6,0.8],"format":".1f","title":null}}}},
{"data":{"values":[{"label":"D4"}]},"mark":{"type":"text","align":"right","baseline":"alphabetic","dx":-8,"dy":12.2,"fontSize":13,"color":"#111"},"encoding":{"text":{"field":"label","type":"nominal"},"x":{"datum":0.11,"type":"quantitative","axis":{"orient":"top","values":[-0.1,-0.05,0,0.05,0.1],"labels":false,"title":null}},"y":{"datum":1,"type":"quantitative","axis":{"orient":"right","values":[0.2,0.4,0.6,0.8],"labels":false,"title":null}}}}],
"resolve":{"axis":{"x":"independent","y":"independent"}}}
]},
{"spacing":0,"bounds":"flush",
"vconcat":[
{"width":262,"height":62,"data":{"name":"c1"},
"layer":[{"mark":{"type":"line","color":"#ff2030","strokeWidth":1.5},"encoding":{"x":{"field":"t","type":"quantitative","scale":{"domain":[-0.0434,0.0434],"nice":false,"zero":false},"axis":{"values":[-0.04,-0.03,-0.02,-0.01,0,0.01,0.02,0.03,0.04],"labels":false,"title":null}},"y":{"field":"v","type":"quantitative","scale":{"domain":[0,1],"nice":false,"zero":false},"axis":{"values":[0,0.2,0.4,0.6,0.8],"format":".1f","title":null}}}},
{"data":{"values":[{"label":"D1"}]},"mark":{"type":"text","align":"right","baseline":"alphabetic","dx":-8,"dy":12.2,"fontSize":13,"color":"#111"},"encoding":{"text":{"field":"label","type":"nominal"},"x":{"datum":0.0434,"type":"quantitative","axis":{"orient":"top","values":[-0.04,-0.03,-0.02,-0.01,0,0.01,0.02,0.03,0.04],"labels":false,"title":null}},"y":{"datum":1,"type":"quantitative","axis":{"orient":"right","values":[0.2,0.4,0.6,0.8],"labels":false,"title":null}}}},
{"data":{"values":[{"label":"c"}]},"mark":{"type":"text","align":"left","baseline":"alphabetic","dx":-36,"dy":2.3,"fontSize":12,"fontWeight":"bold","color":"#000"},"encoding":{"text":{"field":"label","type":"nominal"},"x":{"datum":-0.0434,"type":"quantitative","axis":null},"y":{"datum":1,"type":"quantitative","axis":null}}}],
"resolve":{"axis":{"x":"independent","y":"independent"}}},
{"width":262,"height":62,"data":{"name":"c2"},
"layer":[{"mark":{"type":"line","color":"#9632f0","strokeWidth":1.5},"encoding":{"x":{"field":"t","type":"quantitative","scale":{"domain":[-0.0434,0.0434],"nice":false,"zero":false},"axis":{"values":[-0.04,-0.03,-0.02,-0.01,0,0.01,0.02,0.03,0.04],"labels":false,"title":null}},"y":{"field":"v","type":"quantitative","scale":{"domain":[0,1],"nice":false,"zero":false},"axis":{"values":[0,0.2,0.4,0.6,0.8],"format":".1f","title":"Output Waveform (V)","titleX":-31,"titleY":62,"titleAngle":-90,"titleAlign":"center","titleBaseline":"alphabetic"}}}},
{"data":{"values":[{"label":"D2"}]},"mark":{"type":"text","align":"right","baseline":"alphabetic","dx":-8,"dy":12.2,"fontSize":13,"color":"#111"},"encoding":{"text":{"field":"label","type":"nominal"},"x":{"datum":0.0434,"type":"quantitative","axis":{"orient":"top","values":[-0.04,-0.03,-0.02,-0.01,0,0.01,0.02,0.03,0.04],"labels":false,"title":null}},"y":{"datum":1,"type":"quantitative","axis":{"orient":"right","values":[0.2,0.4,0.6,0.8],"labels":false,"title":null}}}}],
"resolve":{"axis":{"x":"independent","y":"independent"}}},
{"width":262,"height":62,"data":{"name":"c3"},
"layer":[{"mark":{"type":"line","color":"#20a020","strokeWidth":1.5},"encoding":{"x":{"field":"t","type":"quantitative","scale":{"domain":[-0.0434,0.0434],"nice":false,"zero":false},"axis":{"values":[-0.04,-0.03,-0.02,-0.01,0,0.01,0.02,0.03,0.04],"labels":false,"title":null}},"y":{"field":"v","type":"quantitative","scale":{"domain":[0,1],"nice":false,"zero":false},"axis":{"values":[0,0.2,0.4,0.6,0.8],"format":".1f","title":null}}}},
{"data":{"values":[{"label":"D3"}]},"mark":{"type":"text","align":"right","baseline":"alphabetic","dx":-8,"dy":12.2,"fontSize":13,"color":"#111"},"encoding":{"text":{"field":"label","type":"nominal"},"x":{"datum":0.0434,"type":"quantitative","axis":{"orient":"top","values":[-0.04,-0.03,-0.02,-0.01,0,0.01,0.02,0.03,0.04],"labels":false,"title":null}},"y":{"datum":1,"type":"quantitative","axis":{"orient":"right","values":[0.2,0.4,0.6,0.8],"labels":false,"title":null}}}}],
"resolve":{"axis":{"x":"independent","y":"independent"}}},
{"width":262,"height":62,"data":{"name":"c4"},
"layer":[{"mark":{"type":"line","color":"#2055f0","strokeWidth":1.5},"encoding":{"x":{"field":"t","type":"quantitative","scale":{"domain":[-0.0434,0.0434],"nice":false,"zero":false},"axis":{"values":[-0.04,-0.03,-0.02,-0.01,0,0.01,0.02,0.03,0.04],"format":".2f","title":"Time (s)"}},"y":{"field":"v","type":"quantitative","scale":{"domain":[0,1],"nice":false,"zero":false},"axis":{"values":[0,0.2,0.4,0.6,0.8],"format":".1f","title":null}}}},
{"data":{"values":[{"label":"D4"}]},"mark":{"type":"text","align":"right","baseline":"alphabetic","dx":-8,"dy":12.2,"fontSize":13,"color":"#111"},"encoding":{"text":{"field":"label","type":"nominal"},"x":{"datum":0.0434,"type":"quantitative","axis":{"orient":"top","values":[-0.04,-0.03,-0.02,-0.01,0,0.01,0.02,0.03,0.04],"labels":false,"title":null}},"y":{"datum":1,"type":"quantitative","axis":{"orient":"right","values":[0.2,0.4,0.6,0.8],"labels":false,"title":null}}}}],
"resolve":{"axis":{"x":"independent","y":"independent"}}}
]}
]
}
